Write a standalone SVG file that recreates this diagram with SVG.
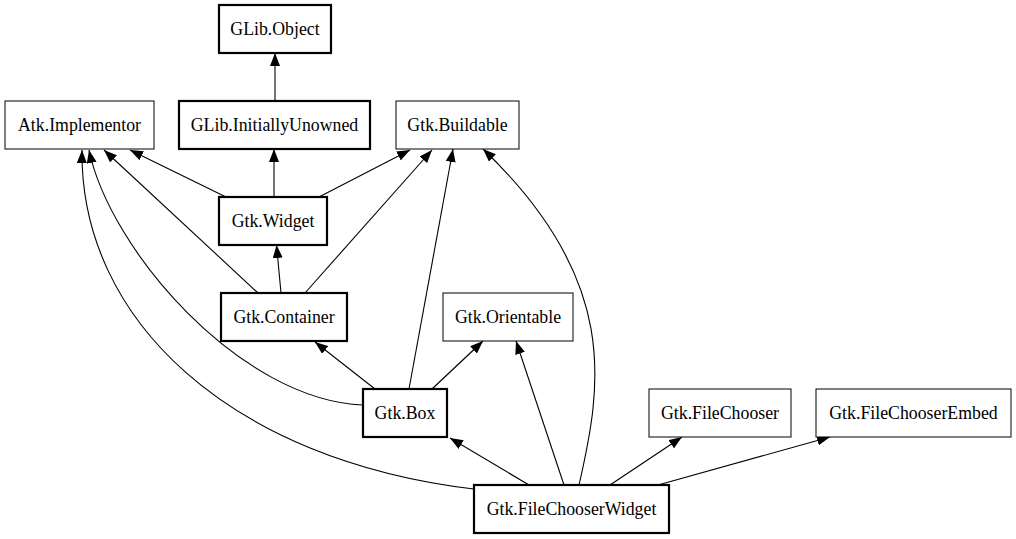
<svg xmlns="http://www.w3.org/2000/svg" width="1016" height="539" viewBox="0 0 1016 539">
<style>
  .node rect { fill: #ffffff; stroke: #000000; stroke-width: 1; }
  .node.bold rect { stroke-width: 2.2; }
  .node text { font-family: 'Liberation Serif', serif; font-size: 17.8px; fill: #000000; text-anchor: middle; }
  #edges path { fill: none; stroke: #000000; stroke-width: 1.1; marker-end: url(#arrow); }
</style>
<defs>
  <marker id="arrow" markerUnits="userSpaceOnUse" viewBox="0 0 13 10" refX="13" refY="5" markerWidth="13" markerHeight="10" orient="auto">
    <path d="M0,0 L13,5 L0,10 z" fill="#000000" stroke="none"/>
  </marker>
</defs>
<rect x="0" y="0" width="1016" height="539" fill="#ffffff"/>
<g id="edges">
  <path d="M275,101 L275,53"/>
  <path d="M274,197 L274,149"/>
  <path d="M226,197 L130,150"/>
  <path d="M319,197 L410,150"/>
  <path d="M281,293 L276.5,245"/>
  <path d="M258,293 L104,150"/>
  <path d="M305,293 L432,150"/>
  <path d="M375,389 L315,342"/>
  <path d="M432,389 L483,341"/>
  <path d="M409,389 L453,149"/>
  <path d="M363,405 C240,400 110,250 89,150"/>
  <path d="M474,489 C230,460 80,320 82,150"/>
  <path d="M529,485 L450,438"/>
  <path d="M564,485 L516,341"/>
  <path d="M579,485 C602,385 620,280 483,149"/>
  <path d="M610,485 L682,437"/>
  <path d="M658,485 L830,437"/>
</g>
<g id="glib_object" class="node bold"><rect x="219" y="5" width="112" height="48"/><text x="275" y="34.5">GLib.Object</text></g>
<g id="atk_implementor" class="node"><rect x="5" y="101" width="149" height="48"/><text x="79.5" y="130.5">Atk.Implementor</text></g>
<g id="glib_initiallyunowned" class="node bold"><rect x="179" y="101" width="191" height="48"/><text x="274.5" y="130.5">GLib.InitiallyUnowned</text></g>
<g id="gtk_buildable" class="node"><rect x="396" y="101" width="123" height="48"/><text x="457.5" y="130.5">Gtk.Buildable</text></g>
<g id="gtk_widget" class="node bold"><rect x="219" y="197" width="108" height="48"/><text x="273" y="226.5">Gtk.Widget</text></g>
<g id="gtk_container" class="node bold"><rect x="221" y="293" width="126" height="48"/><text x="284" y="322.5">Gtk.Container</text></g>
<g id="gtk_orientable" class="node"><rect x="443" y="293" width="130" height="48"/><text x="508" y="322.5">Gtk.Orientable</text></g>
<g id="gtk_box" class="node bold"><rect x="363" y="389" width="84" height="48"/><text x="405" y="418.5">Gtk.Box</text></g>
<g id="gtk_filechooser" class="node"><rect x="649" y="389" width="142" height="48"/><text x="720" y="418.5">Gtk.FileChooser</text></g>
<g id="gtk_filechooserembed" class="node"><rect x="816" y="389" width="195" height="48"/><text x="913.5" y="418.5">Gtk.FileChooserEmbed</text></g>
<g id="gtk_filechooserwidget" class="node bold"><rect x="474" y="485" width="195" height="48"/><text x="571.5" y="514.5">Gtk.FileChooserWidget</text></g>
</svg>
